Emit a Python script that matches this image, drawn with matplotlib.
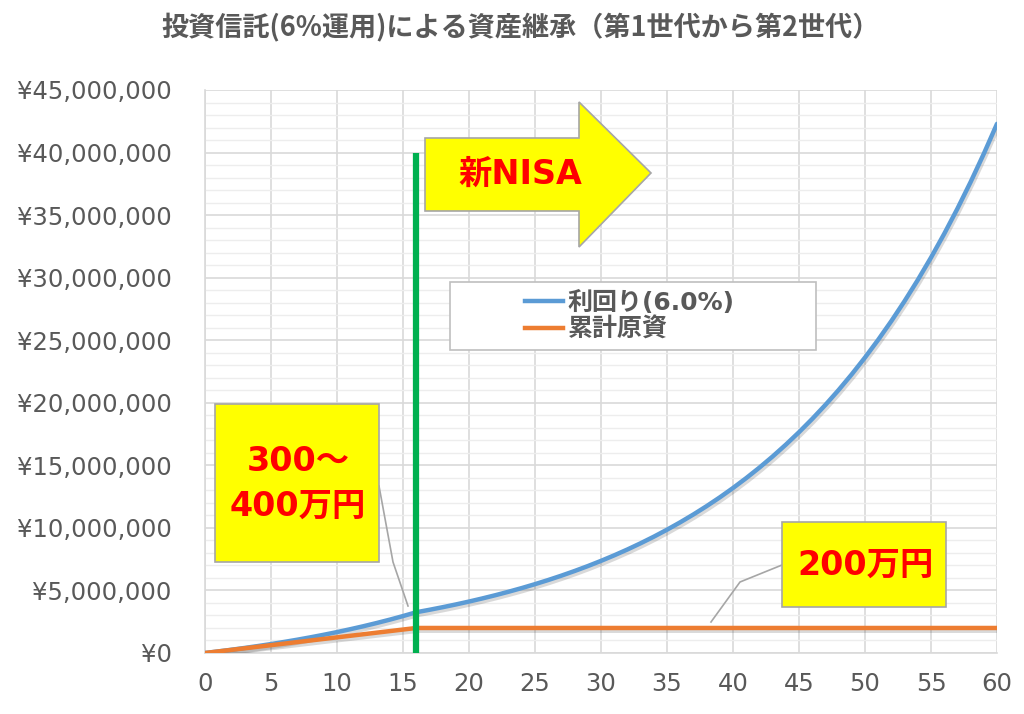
import numpy as np
import matplotlib.pyplot as plt
import matplotlib.patheffects as pe
from matplotlib.patches import Polygon, Rectangle
from matplotlib.lines import Line2D
from matplotlib.ticker import MultipleLocator, FuncFormatter

plt.rcParams['font.family'] = ['Noto Sans CJK JP', 'DejaVu Sans']
wide = ['DejaVu Sans', 'Noto Sans CJK JP']

years = list(range(0, 61))
# 利回り(6.0%) : 評価額 (円)
yield_values = [
    0, 127000, 261000, 404000, 555000, 715000, 885000, 1065000, 1256000, 1458000,
    1672000, 1900000, 2140000, 2396000, 2666000, 2953000, 3257000, 3453000, 3660000, 3879000,
    4112000, 4359000, 4620000, 4898000, 5191000, 5503000, 5833000, 6183000, 6554000, 6947000,
    7364000, 7806000, 8274000, 8771000, 9297000, 9855000, 10446000, 11073000, 11737000, 12441000,
    13188000, 13979000, 14818000, 15707000, 16650000, 17649000, 18708000, 19830000, 21020000, 22281000,
    23618000, 25035000, 26537000, 28130000, 29817000, 31606000, 33503000, 35513000, 37643000, 39902000,
    42296000,
]
# 累計原資 (円)
principal_values = [
    0, 125000, 250000, 375000, 500000, 625000, 750000, 875000, 1000000, 1125000,
    1250000, 1375000, 1500000, 1625000, 1750000, 1875000, 2000000, 2000000, 2000000, 2000000,
    2000000, 2000000, 2000000, 2000000, 2000000, 2000000, 2000000, 2000000, 2000000, 2000000,
    2000000, 2000000, 2000000, 2000000, 2000000, 2000000, 2000000, 2000000, 2000000, 2000000,
    2000000, 2000000, 2000000, 2000000, 2000000, 2000000, 2000000, 2000000, 2000000, 2000000,
    2000000, 2000000, 2000000, 2000000, 2000000, 2000000, 2000000, 2000000, 2000000, 2000000,
    2000000,
]
series_labels = ['利回り(6.0%)', '累計原資']
series_colors = ['#5B9BD5', '#ED7D31']
nisa_year = 16
nisa_line_top = 40000000

title = '投資信託(6%運用)による資産継承（第1世代から第2世代）'
txt_color = '#595959'

W, H = 1024, 714
fig = plt.figure(figsize=(W / 100, H / 100), dpi=100)
ax = fig.add_axes([205 / W, 1 - 653 / H, (997 - 205) / W, (653 - 90) / H])


def fx(px):
    return px / W


def fy(py):
    return 1 - py / H


shadow = [pe.SimpleLineShadow(offset=(1, -2), alpha=0.18, shadow_color='#303030'), pe.Normal()]
ax.plot(years, yield_values, color=series_colors[0], lw=3.2, label=series_labels[0],
        path_effects=shadow, zorder=4, solid_capstyle='round')
ax.plot(years, principal_values, color=series_colors[1], lw=3.2, label=series_labels[1],
        path_effects=shadow, zorder=4, solid_capstyle='round')
ax.vlines(nisa_year, 0, nisa_line_top, color='#00B050', lw=4.5, zorder=5)

ax.set_xlim(0, 60)
ax.set_ylim(0, 45000000)
ax.xaxis.set_major_locator(MultipleLocator(5))
ax.yaxis.set_major_locator(MultipleLocator(5000000))
ax.yaxis.set_minor_locator(MultipleLocator(1000000))
ax.yaxis.set_major_formatter(FuncFormatter(lambda v, p: '¥{:,.0f}'.format(v)))
ax.grid(which='major', color='#D9D9D9', lw=1.2)
ax.grid(which='minor', axis='y', color='#EDEDED', lw=1.0)
ax.set_axisbelow(True)
ax.tick_params(which='both', length=0, labelsize=17.5, labelcolor=txt_color)
ax.tick_params(axis='x', pad=14)
ax.tick_params(axis='y', pad=24)
for lab in ax.get_xticklabels() + ax.get_yticklabels():
    lab.set_family(wide)
for s in ['top', 'right']:
    ax.spines[s].set_visible(False)
for s in ['left', 'bottom']:
    ax.spines[s].set_color('#D9D9D9')
    ax.spines[s].set_linewidth(1.2)

fig.text(fx(521), fy(28), title, ha='center', va='center', fontsize=19.5,
         fontweight='bold', color=txt_color)

# legend box
fig.patches.append(Rectangle((fx(450), fy(350)), fx(816) - fx(450), fy(282) - fy(350),
                             transform=fig.transFigure, facecolor='white',
                             edgecolor='#BFBFBF', lw=1.2, zorder=6))
handles = [Line2D([], [], color=c, lw=3.2) for c in series_colors]
leg = fig.legend(handles, series_labels, loc='center', bbox_to_anchor=(fx(630), fy(316)),
                 frameon=False, fontsize=18, handlelength=1.5, handletextpad=0.2,
                 labelspacing=0.1, labelcolor=txt_color)
leg.set_zorder(7)
for t in leg.get_texts():
    t.set_fontweight('bold')
    t.set_family(wide)

# 新NISA arrow
arrow_px = [(425, 138), (579, 138), (579, 102), (651, 173), (579, 247), (579, 211), (425, 211)]
fig.patches.append(Polygon([(fx(x), fy(y)) for x, y in arrow_px], closed=True,
                           transform=fig.transFigure, facecolor='#FFFF00',
                           edgecolor='#A6A6A6', lw=1.2, zorder=6))
fig.text(fx(520), fy(174), '新NISA', ha='center', va='center', fontsize=24,
         fontweight='bold', color='#FF0000', family=wide, zorder=8)

# callouts
def callout(x0, y0, x1, y1, text, leader, tx, ty, spacing=1.2):
    fig.add_artist(Line2D([fx(p[0]) for p in leader], [fy(p[1]) for p in leader],
                          transform=fig.transFigure, color='#A6A6A6', lw=1.2, zorder=6))
    fig.patches.append(Rectangle((fx(x0), fy(y1)), fx(x1) - fx(x0), fy(y0) - fy(y1),
                                 transform=fig.transFigure, facecolor='#FFFF00',
                                 edgecolor='#A6A6A6', lw=1.2, zorder=6))
    fig.text(fx(tx), fy(ty), text, ha='center', va='center', fontsize=24,
             fontweight='bold', color='#FF0000', linespacing=spacing, family=wide, zorder=8)


callout(215, 404, 379, 562, '300～\n400万円', [(379, 486), (393, 562), (408, 606)], 298, 484, 1.45)
callout(782, 522, 946, 607, '200万円', [(782, 565), (740, 582), (711, 622)], 866, 565)

fig.savefig('out.png', dpi=100)
